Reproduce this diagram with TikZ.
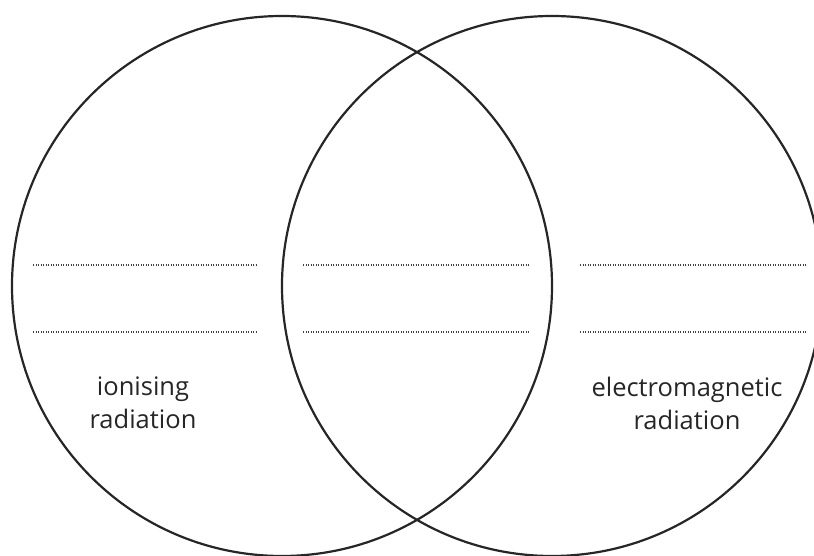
\documentclass[tikz,border=0pt]{standalone}
\usepackage{fontspec}
\setmainfont{Open Sans}
\usetikzlibrary{positioning, calc}

\begin{document}
\begin{tikzpicture}[x=1pt, y=1pt,
        ring/.style={draw=black!85, line width=2.2pt, circle, minimum size=540pt, inner sep=0pt},
        blank/.style={draw=black!75, line width=1.4pt, dash pattern=on 1.2pt off 1.3pt},
        lbl/.style={align=center, font=\fontsize{25.5}{33}\selectfont, text=black!85}]
        \useasboundingbox (0,0) rectangle (814,555);
        \node[ring] (ion) at (282,269) {};
        \node[ring] (em) at (552,269) {};
        % answer lines
        \foreach \y in {290,223} {
            \draw[blank] (33,\y) -- (257,\y);
            \draw[blank] (303,\y) -- (530,\y);
            \draw[blank] (580,\y) -- (806,\y);
        }
        \node[lbl] (ionlbl) at (143,152) {ionising\\radiation};
        \node[lbl] (emlbl) at (687,152) {electromagnetic\\radiation};
    \end{tikzpicture}
\end{document}
